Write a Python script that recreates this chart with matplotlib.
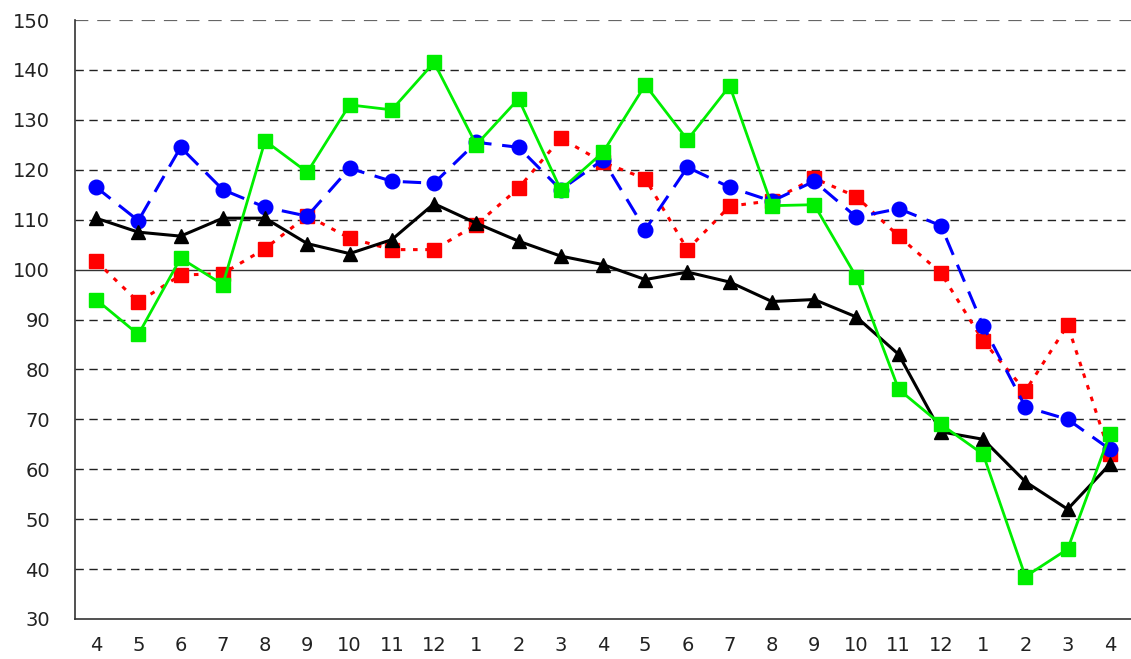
import matplotlib
matplotlib.use("Agg")
import matplotlib.pyplot as plt

months = ["4", "5", "6", "7", "8", "9", "10", "11", "12", "1", "2", "3",
          "4", "5", "6", "7", "8", "9", "10", "11", "12", "1", "2", "3", "4"]

black_tri = [110.3, 107.5, 106.7, 110.3, 110.3, 105.2, 103.2, 106.0, 113.2, 109.3,
             105.7, 102.7, 101.0, 98.0, 99.5, 97.5, 93.6, 94.0, 90.5, 83.0,
             67.5, 66.0, 57.5, 52.0, 61.0]
blue_circ = [116.5, 109.8, 124.5, 116.0, 112.5, 110.7, 120.3, 117.7, 117.3, 125.5,
             124.5, 116.0, 122.0, 108.0, 120.5, 116.5, 113.7, 117.7, 110.5, 112.2,
             108.8, 88.7, 72.5, 70.0, 64.0]
red_sq = [101.7, 93.5, 98.9, 99.2, 104.2, 110.8, 106.3, 104.0, 104.0, 109.0,
          116.3, 126.3, 121.5, 118.2, 104.0, 112.7, 113.8, 118.3, 114.6, 106.7,
          99.3, 85.7, 75.7, 88.9, 63.0]
green_sq = [94.0, 87.0, 102.3, 97.0, 125.8, 119.5, 133.0, 132.0, 141.5, 125.0,
            134.2, 116.0, 123.5, 137.0, 126.0, 136.8, 112.8, 113.0, 98.5, 76.0,
            69.0, 63.0, 38.5, 44.0, 67.0]

y_ticks = [30, 40, 50, 60, 70, 80, 90, 100, 110, 120, 130, 140, 150]

plt.rcParams['font.family'] = ['DejaVu Sans']

fig = plt.figure(figsize=(11.31, 6.59), dpi=100)
ax = fig.add_axes([75/1131, 1-619/659, 1056/1131, 599/659])

x = list(range(len(months)))

for yv in y_ticks[1:]:
    if yv == 100:
        ax.axhline(yv, color="#333333", lw=1.0, zorder=1)
    elif yv == 150:
        ax.axhline(yv, color="#666666", lw=1.6, ls=(0, (6, 4)), zorder=1)
    else:
        ax.axhline(yv, color="#222222", lw=1.0, ls=(0, (6, 4)), zorder=1)

ax.plot(x, red_sq, color="#ff0000", ls=(0, (1.5, 2.5)), lw=2.2,
        marker="s", ms=10, mec="#ff0000", mfc="#ff0000", zorder=3)
ax.plot(x, blue_circ, color="#0000ff", ls=(0, (6, 3.5)), lw=2.2,
        marker="o", ms=10.5, mec="#0000ff", mfc="#0000ff", zorder=4)
ax.plot(x, black_tri, color="#000000", ls="-", lw=2.2,
        marker="^", ms=10.5, mec="#000000", mfc="#000000", zorder=5)
ax.plot(x, green_sq, color="#00ee00", ls="-", lw=2.0,
        marker="s", ms=10, mec="#00ee00", mfc="#00ee00", zorder=6)

ax.set_xlim(-0.5, len(months) - 0.5)
ax.set_ylim(30, 150)
ax.set_xticks(x)
ax.set_xticklabels(months)
ax.set_yticks(y_ticks)
ax.set_yticklabels([str(v) for v in y_ticks])
ax.tick_params(axis="both", length=0, labelsize=14, colors="#222222")
ax.tick_params(axis="x", pad=12)
ax.tick_params(axis="y", pad=18)

for s in ["top", "right"]:
    ax.spines[s].set_visible(False)
ax.spines["left"].set_color("#333333")
ax.spines["left"].set_linewidth(1.2)
ax.spines["bottom"].set_color("#333333")
ax.spines["bottom"].set_linewidth(1.2)

fig.savefig("out.png", dpi=100)
